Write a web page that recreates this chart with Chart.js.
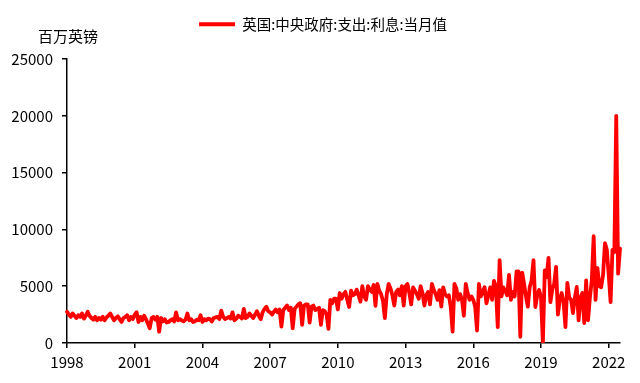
<!DOCTYPE html>
<html>
<head>
<meta charset="utf-8">
<script src="https://cdn.jsdelivr.net/npm/chart.js@4/dist/chart.umd.min.js"></script>
<style>
  html, body { margin: 0; padding: 0; background: #ffffff; }
  #wrap { width: 640px; height: 383px; position: relative; }
</style>
</head>
<body>
<div id="wrap"><canvas id="c" width="640" height="383"></canvas></div>
<script>
// ---------- data ----------
const seriesName = '英国:中央政府:支出:利息:当月值';
const unitLabel = '百万英镑';
const startYear = 1998;
const tickYears = ['1998', '2001', '2004', '2007', '2010', '2013', '2016', '2019', '2022'];
const yTickValues = [0, 5000, 10000, 15000, 20000, 25000];

// monthly values, Jan 1998 onward (one row per year)
const interestValues = [
  2750, 2500, 2300, 2600, 2400, 2200, 2450, 2300, 2600, 2150, 2400, 2750,
  2400, 2200, 2050, 2300, 2000, 2200, 2050, 2300, 2000, 2250, 2400, 2600,
  2300, 2000, 2200, 2350, 2100, 1850, 2200, 2300, 2450, 2000, 2300, 2100,
  2500, 2700, 1850, 2300, 2000, 2400, 2100, 1700, 1300, 2200, 2300, 2050,
  2300, 1000, 2200, 1900, 2100, 1800, 1850, 2000, 2100, 1900, 2700, 2000,
  2100, 2000, 1900, 2050, 2600, 2000, 2100, 1850, 1900, 2050, 2000, 2450,
  1850, 2100, 2000, 2150, 2100, 1900, 2200, 2250, 2300, 2100, 2850, 2300,
  2100, 2200, 2300, 2150, 2700, 2000, 2150, 2400, 2300, 2150, 3000, 2200,
  2300, 2600, 2400, 2200, 2500, 2800, 2400, 2100, 2700, 3000, 3200, 2800,
  2700, 2500, 2750, 2950, 2700, 2950, 1450, 2900, 3100, 3300, 2900, 3100,
  1300, 3000, 3200, 3400, 3500, 1600, 3300, 3400, 3400, 1800, 3200, 3300,
  2900, 3000, 3100, 1600, 2900, 2800, 2500, 1250, 3800, 3500, 3900, 3900,
  2950, 4400, 3900, 4300, 4500, 3800, 3170, 4600, 4200, 4300, 4700, 4200,
  3640, 5000, 4100, 3800, 5000, 4700, 4500, 5100, 3270, 5200, 4600, 4300,
  3700, 2200, 4300, 5200, 4800, 4200, 3300, 4500, 4700, 4200, 5000, 3300,
  5000, 5200, 4400, 3400, 4900, 4600, 4300, 3900, 5000, 4400, 3300, 4200,
  4500, 3400, 5200, 4700, 4300, 3800, 4660, 3200, 4900, 4300, 4100, 4200,
  3200, 1000, 5200, 4800, 3800, 4300, 3800, 2400, 5200, 4400, 3800, 4100,
  3800, 3200, 1100, 5200, 4100, 4500, 4900, 3500, 4200, 4900, 3800, 5460,
  5000, 1400, 7300, 4100, 4900, 4600, 4200, 6000, 3800, 4500, 4100, 6300,
  6300, 550, 6200, 5200, 4100, 3200, 4930, 5500, 7300, 3170, 4200, 4660,
  4000, 0, 6400, 5800, 7500, 3600, 4700, 5200, 6700, 2500, 3800, 4400,
  3600, 1400, 5300, 4000, 3800, 2640, 4000, 4930, 2000, 4000, 4400, 1760,
  5500, 2000, 4000, 5500, 9400, 3800, 6600, 5000, 4900, 6000, 8800, 8200,
  6000, 3600, 8200, 8000, 20000, 6100, 8300
];

// month categories derived from the start year
const months = interestValues.map((_, i) =>
  (startYear + Math.floor(i / 12)) + '-' + String(i % 12 + 1).padStart(2, '0'));

// ---------- styling ----------
const FONT = '"Noto Sans CJK SC", "Noto Sans", sans-serif';
Chart.defaults.font.family = FONT;
Chart.defaults.color = '#000000';

const legendTweak = {
  id: 'legendTweak',
  beforeInit(chart) {
    const lg = chart.legend;
    if (!lg) return;
    const origFit = lg.fit;
    lg.fit = function () {
      origFit.call(this);
      this.height = 52;
    };
    const origDraw = lg.draw;
    lg.draw = function () {
      this.ctx.save();
      this.ctx.translate(13, 0);
      origDraw.call(this);
      this.ctx.restore();
    };
  }
};

const unitTitle = {
  id: 'unitTitle',
  afterDraw(chart) {
    const ctx = chart.ctx;
    ctx.save();
    ctx.font = '15px ' + FONT;
    ctx.fillStyle = '#000000';
    ctx.textAlign = 'left';
    ctx.textBaseline = 'middle';
    ctx.fillText(unitLabel, 38, 36);
    ctx.restore();
  }
};

new Chart(document.getElementById('c'), {
  type: 'line',
  data: {
    labels: months,
    datasets: [{
      label: seriesName,
      data: interestValues,
      borderColor: '#ff0000',
      backgroundColor: '#ff0000',
      borderWidth: 3.8,
      pointRadius: 0,
      tension: 0,
      borderJoinStyle: 'round',
      borderCapStyle: 'round',
      fill: false
    }]
  },
  options: {
    responsive: false,
    animation: false,
    layout: { padding: { left: 0, right: 20, top: 7, bottom: 0 } },
    plugins: {
      legend: {
        position: 'top',
        align: 'center',
        labels: {
          usePointStyle: true,
          pointStyle: 'line',
          pointStyleWidth: 36,
          boxHeight: 14,
          padding: 10,
          color: '#000000',
          font: { size: 14.5, family: FONT }
        }
      },
      tooltip: { enabled: false }
    },
    scales: {
      x: {
        type: 'category',
        offset: false,
        afterFit(s) { s.height = 40; },
        border: { display: true, color: '#000000', width: 1.5 },
        grid: { display: true, drawOnChartArea: false, drawTicks: true, tickLength: 5, color: '#000000', lineWidth: 1.5 },
        ticks: {
          autoSkip: false,
          maxRotation: 0,
          minRotation: 0,
          padding: 5,
          color: '#000000',
          font: { size: 15, family: FONT },
          callback(value) {
            const lab = months[value];
            const yr = lab.slice(0, 4);
            return (lab.endsWith('-01') && tickYears.includes(yr)) ? yr : null;
          }
        }
      },
      y: {
        min: yTickValues[0],
        max: yTickValues[yTickValues.length - 1],
        afterFit(s) { s.width = 67; },
        afterBuildTicks(s) { s.ticks = yTickValues.map(v => ({ value: v })); },
        border: { display: true, color: '#000000', width: 1.5 },
        grid: { display: true, drawOnChartArea: false, drawTicks: true, tickLength: 5, color: '#000000', lineWidth: 1.5 },
        ticks: {
          padding: 9,
          color: '#000000',
          font: { size: 15, family: FONT },
          callback(v) { return String(v); }
        }
      }
    }
  },
  plugins: [legendTweak, unitTitle]
});
</script>
</body>
</html>
